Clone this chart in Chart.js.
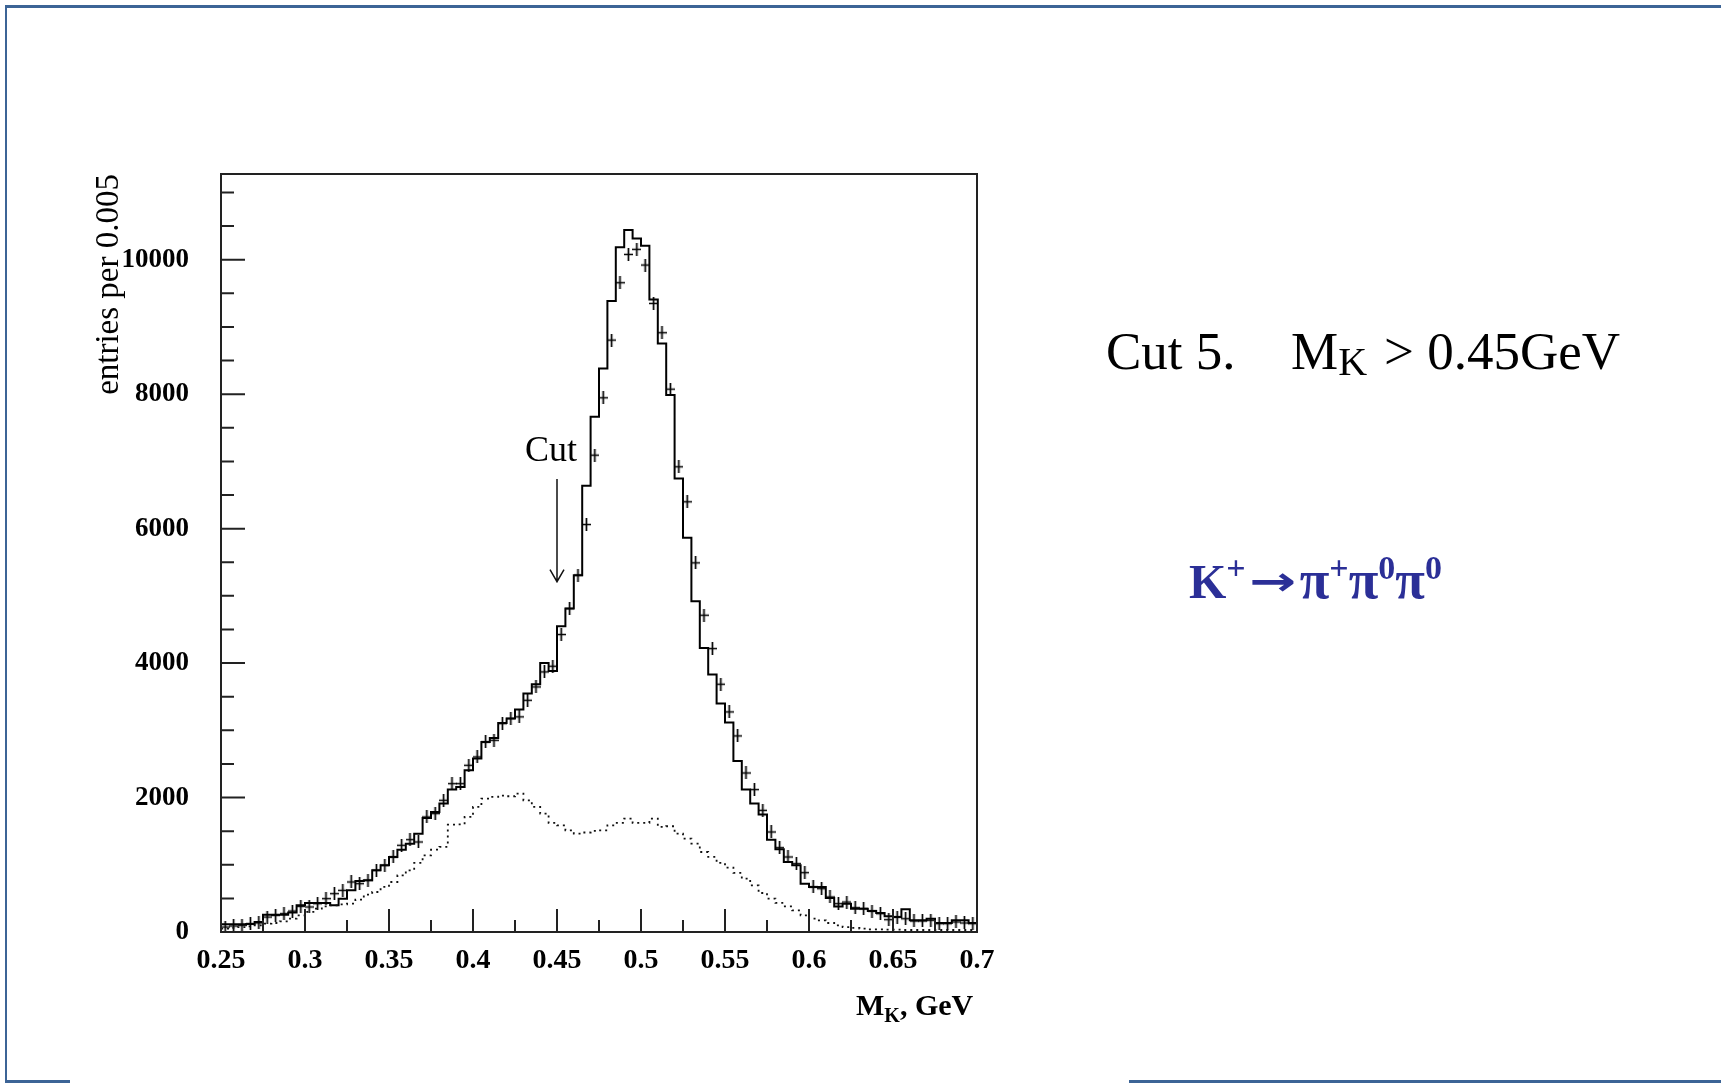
<!DOCTYPE html>
<html><head><meta charset="utf-8">
<script src="https://cdn.jsdelivr.net/npm/chart.js@4.4.1/dist/chart.umd.min.js"></script>
<style>
html,body{margin:0;padding:0;background:#fff;}
#wrap{position:relative;width:1721px;height:1083px;overflow:hidden;background:#fff;}
#c{position:absolute;left:0;top:0;}
.t{position:absolute;white-space:nowrap;font-family:'Liberation Serif','Times New Roman',serif;line-height:1;color:#000;}
.bl{position:absolute;background:#3c6496;}
.sp{position:relative;top:-19px;font-size:34px;}
.pi{font-size:54px;}
.ar{display:inline-block;width:54px;text-align:center;font-family:'DejaVu Sans',sans-serif;font-weight:bold;font-size:40px;transform:scaleX(1.4);position:relative;top:-3px;}
</style></head><body><div id="wrap">
<canvas id="c" width="1721" height="1083"></canvas>
<div class="bl" style="left:5px;top:5px;width:1716px;height:2.5px"></div>
<div class="bl" style="left:5px;top:5px;width:2px;height:1078px"></div>
<div class="bl" style="left:5px;top:1080px;width:65px;height:2.5px"></div>
<div class="bl" style="left:1129px;top:1080px;width:592px;height:2.5px"></div>
<div class="t" style="left:525px;top:431px;font-size:36px;">Cut</div>
<div class="t" style="left:856px;top:990px;font-size:30px;font-weight:bold;">M<span style="font-size:20px;position:relative;top:7px;">K</span>, GeV</div>
<div class="t" style="left:1106px;top:325px;font-size:53px;">Cut 5.</div>
<div class="t" style="left:1291px;top:325px;font-size:53px;">M<span style="font-size:40px;position:relative;top:6px;">K</span></div>
<div class="t" style="left:1384px;top:325px;font-size:53px;">&gt; 0.45GeV</div>
<div class="t" style="left:1189px;top:553px;font-size:48px;font-weight:bold;color:#2b2f97;">K<span class="sp">+</span><span class="ar">→</span><span class="pi">π</span><span class="sp">+</span><span class="pi">π</span><span class="sp">0</span><span class="pi">π</span><span class="sp">0</span></div>
</div>
<script>
// ---- data ----
const BIN_LO = 0.25;
const BIN_W = 0.005;
const MC = [115,115,115,120,150,258,258,258,290,397,
  431,431,431,397,496,620,759,769,918,992,
  1116,1225,1314,1463,1696,1786,1910,2118,2158,2406,
  2579,2827,2887,3110,3175,3308,3547,3686,4003,3884,
  4549,4811,5308,6637,7664,8383,9385,10184,10441,10317,
  10208,9410,8755,7986,6746,5863,4921,4226,3829,3398,
  3115,2545,2118,1910,1746,1374,1230,1042,992,719,
  670,670,506,380,420,347,347,312,283,233,
  223,340,174,174,198,134,134,174,174,134];
const DATA = [74,90,100,124,134,223,248,273,312,382,
  372,422,496,570,620,744,719,769,918,992,
  1116,1290,1374,1339,1711,1761,1959,2207,2207,2480,
  2604,2827,2852,3100,3175,3200,3447,3646,3869,3953,
  4425,4811,5308,6061,7093,7946,8804,9658,10079,10154,
  9921,9350,8914,8075,6920,6399,5491,4712,4216,3686,
  3274,2917,2366,2118,1810,1488,1255,1116,1017,883,
  670,645,521,422,446,362,347,312,273,184,
  223,198,164,164,174,124,124,149,134,124];
const BKG = [50,60,74,85,99,124,134,159,198,248,
  298,347,382,397,412,422,481,556,595,670,
  744,843,918,1027,1141,1225,1265,1597,1602,1711,
  1860,1984,2009,2029,2019,2059,1959,1860,1761,1622,
  1587,1513,1463,1480,1503,1513,1587,1622,1686,1622,
  1622,1686,1563,1573,1463,1389,1314,1190,1116,1027,
  957,878,794,694,580,496,432,382,322,248,
  198,174,134,99,74,60,50,40,40,35,
  35,30,30,30,30,30,30,30,30,30];
const X_TICKS = [0.25,0.3,0.35,0.4,0.45,0.5,0.55,0.6,0.65,0.7];
const X_TICK_LABELS = ['0.25','0.3','0.35','0.4','0.45','0.5','0.55','0.6','0.65','0.7'];
const X_MINOR = [0.275,0.325,0.375,0.425,0.475,0.525,0.575,0.625,0.675];
const Y_TICKS = [0,2000,4000,6000,8000,10000];
const Y_TICK_LABELS = ['0','2000','4000','6000','8000','10000'];
const Y_MINOR = [500,1000,1500,2500,3000,3500,4500,5000,5500,6500,7000,7500,8500,9000,9500,10500,11000];
const X_MIN = 0.25, X_MAX = 0.7, Y_MIN = 0, Y_MAX = 11275;
const CUT_X = 0.45, CUT_ARROW_TOP = 6740, CUT_ARROW_TIP = 5210;

// ---- build ----
function edges(vals){
  const pts = vals.map((v,i)=>({x: BIN_LO + i*BIN_W, y: v}));
  pts.push({x: BIN_LO + vals.length*BIN_W, y: vals[vals.length-1]});
  return pts;
}
function centers(vals){ return vals.map((v,i)=>({x: BIN_LO + (i+0.5)*BIN_W, y: v})); }

const cross = document.createElement('canvas');
cross.width = 9; cross.height = 13;
(function(){
  const g = cross.getContext('2d');
  g.strokeStyle = '#000'; g.lineWidth = 1.7;
  g.beginPath(); g.moveTo(4.5,0); g.lineTo(4.5,13); g.moveTo(0,6.5); g.lineTo(9,6.5); g.stroke();
})();

const frame = {
  id: 'frame',
  afterDraw(chart){
    const {ctx, chartArea: a, scales: {x, y}} = chart;
    ctx.save();
    ctx.strokeStyle = '#222'; ctx.lineWidth = 2;
    ctx.strokeRect(a.left, a.top, a.right - a.left, a.bottom - a.top);
    ctx.beginPath();
    X_TICKS.forEach(v=>{ const p = x.getPixelForValue(v); ctx.moveTo(p, a.bottom); ctx.lineTo(p, a.bottom - 23); });
    X_MINOR.forEach(v=>{ const p = x.getPixelForValue(v); ctx.moveTo(p, a.bottom); ctx.lineTo(p, a.bottom - 12); });
    Y_TICKS.forEach(v=>{ const p = y.getPixelForValue(v); ctx.moveTo(a.left, p); ctx.lineTo(a.left + 24, p); });
    Y_MINOR.forEach(v=>{ const p = y.getPixelForValue(v); ctx.moveTo(a.left, p); ctx.lineTo(a.left + 13, p); });
    ctx.stroke();
    // cut arrow
    const cx = x.getPixelForValue(CUT_X), t = y.getPixelForValue(CUT_ARROW_TOP), b = y.getPixelForValue(CUT_ARROW_TIP);
    ctx.lineWidth = 1.5; ctx.strokeStyle = '#111';
    ctx.beginPath(); ctx.moveTo(cx, t); ctx.lineTo(cx, b);
    ctx.moveTo(cx - 7, b - 12); ctx.lineTo(cx, b); ctx.lineTo(cx + 7, b - 12);
    ctx.stroke();
    ctx.restore();
  }
};

new Chart(document.getElementById('c'), {
  type: 'line',
  data: {
    datasets: [
      {label:'bkg', data: edges(BKG), stepped:'before', borderColor:'#111', borderWidth:1.8, borderDash:[2,4], pointRadius:0, fill:false},
      {label:'mc', data: edges(MC), stepped:'before', borderColor:'#000', borderWidth:2, pointRadius:0, fill:false},
      {label:'data', data: centers(DATA), showLine:false, pointStyle: cross, pointRadius:5, borderColor:'#000', backgroundColor:'#000'}
    ]
  },
  options: {
    responsive:false, animation:false, devicePixelRatio:1,
    layout:{padding:{left:0, top:174, right:744, bottom:0}},
    plugins:{legend:{display:false}, tooltip:{enabled:false}},
    scales:{
      x:{type:'linear', min:X_MIN, max:X_MAX,
        afterBuildTicks: s => { s.ticks = X_TICKS.map(v=>({value:v})); },
        afterFit: s => { s.height = 151; },
        grid:{display:false, drawTicks:false}, border:{display:false},
        ticks:{callback:(v,i)=>X_TICK_LABELS[i], padding:12, maxRotation:0, autoSkip:false, color:'#000',
          font:{family:"'Liberation Serif', serif", size:28, weight:'bold'}}
      },
      y:{type:'linear', min:Y_MIN, max:Y_MAX,
        afterBuildTicks: s => { s.ticks = Y_TICKS.map(v=>({value:v})); },
        afterFit: s => { s.width = 221; },
        grid:{display:false, drawTicks:false}, border:{display:false},
        ticks:{callback:(v,i)=>Y_TICK_LABELS[i], padding:32, autoSkip:false, color:'#000',
          font:{family:"'Liberation Serif', serif", size:27, weight:'bold'}},
        title:{display:true, text:'entries per 0.005', align:'end', color:'#000',
          font:{family:"'Liberation Serif', serif", size:33}, padding:{top:90, bottom:0}}
      }
    }
  },
  plugins:[frame]
});
</script>
</body></html>
